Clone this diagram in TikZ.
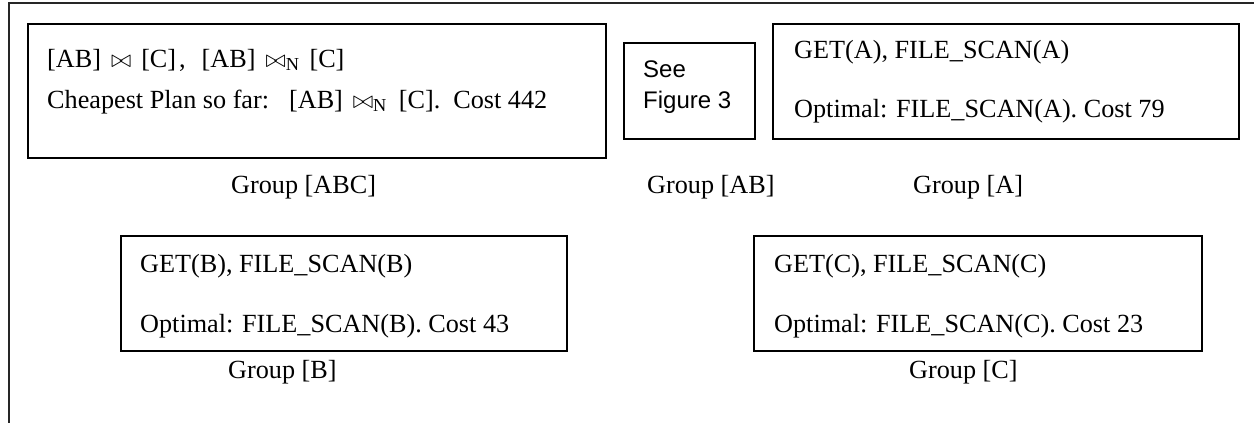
\documentclass[tikz,border=0pt]{standalone}
\usepackage{fontspec}
\setmainfont{Liberation Serif}
\newfontfamily\sansf{Liberation Sans}
\newcommand\bt{\ensuremath{\bowtie}}
\newcommand\btN{\bt\textsubscript{N}}
\begin{document}
\begin{tikzpicture}[x=1pt,y=-1pt,
  frame/.style={draw=black!85, line width=1.6pt},
  box/.style={draw, line width=1.6pt, anchor=north west, inner sep=0pt},
  txt/.style={anchor=base west, inner sep=0pt, font=\fontsize{26.2}{31}\selectfont},
  lbl/.style={anchor=base west, inner sep=0pt, font=\fontsize{26.2}{31}\selectfont},
  sans/.style={anchor=base west, inner sep=0pt, font=\sansf\fontsize{24}{28}\selectfont}]
\useasboundingbox (0,0) rectangle (1254,423);
% outer frame
\coordinate (ftl) at (9,3);
\coordinate (ftr) at (1256,3);
\coordinate (fbl) at (9,425);
\draw[frame] (fbl) -- (ftl) -- (ftr);
% group ABC
\node[box, minimum width=578pt, minimum height=134pt] (abc) at (27,23) {};
\node[txt] (abc1) at (47,67) {[AB]\hspace{10pt}\bt\hspace{10pt}[C]\hspace{3pt},\hspace{16pt}[AB]\hspace{10pt}\btN\hspace{10pt}[C]};
\node[txt] (abc2) at (47,108) {Cheapest Plan so far:\hspace{20pt}[AB]\hspace{10pt}\btN\hspace{12pt}[C].\hspace{13pt}Cost 442};
\node[lbl] (gabc) at (231,193) {Group [ABC]};
% group AB
\node[box, minimum width=131pt, minimum height=96pt] (ab) at (623,42) {};
\node[sans] (ab1) at (643,77) {See};
\node[sans] (ab2) at (643,108) {Figure 3};
\node[lbl] (gab) at (647,193) {Group [AB]};
% group A
\node[box, minimum width=466pt, minimum height=115pt] (a) at (772,23) {};
\node[txt] (a1) at (794,58) {GET(A), FILE\_SCAN(A)};
\node[txt] (a2) at (794,117) {Optimal: FILE\_SCAN(A). Cost 79};
\node[lbl] (ga) at (913,193) {Group [A]};
% group B
\node[box, minimum width=446pt, minimum height=115pt] (b) at (120,235) {};
\node[txt] (b1) at (140,272) {GET(B), FILE\_SCAN(B)};
\node[txt] (b2) at (140,332) {Optimal: FILE\_SCAN(B). Cost 43};
\node[lbl] (gb) at (228,378) {Group [B]};
% group C
\node[box, minimum width=448pt, minimum height=115pt] (c) at (753,235) {};
\node[txt] (c1) at (774,272) {GET(C), FILE\_SCAN(C)};
\node[txt] (c2) at (774,332) {Optimal: FILE\_SCAN(C). Cost 23};
\node[lbl] (gc) at (909,378) {Group [C]};
\end{tikzpicture}
\end{document}
